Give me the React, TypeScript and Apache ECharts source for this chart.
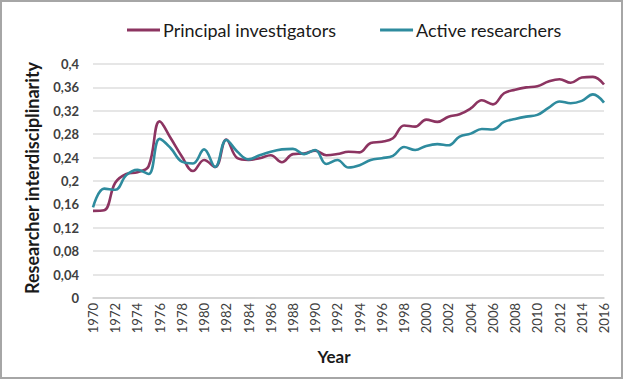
import React, { useEffect, useRef } from "react";
import * as echarts from "echarts";

const years: string[] = [];
for (let y = 1970; y <= 2016; y++) years.push(String(y));

const principalInvestigators = [
  0.149, 0.150, 0.197, 0.212, 0.215, 0.225, 0.302, 0.273, 0.242, 0.217,
  0.236, 0.224, 0.271, 0.239, 0.236, 0.239, 0.244, 0.232, 0.246, 0.247,
  0.252, 0.244, 0.246, 0.250, 0.249, 0.265, 0.267, 0.273, 0.295, 0.293,
  0.305, 0.301, 0.310, 0.314, 0.324, 0.338, 0.331, 0.350, 0.356, 0.360,
  0.362, 0.370, 0.374, 0.368, 0.377, 0.378, 0.365,
];

const activeResearchers = [
  0.155, 0.187, 0.185, 0.210, 0.219, 0.212, 0.272, 0.256, 0.233, 0.230,
  0.254, 0.224, 0.270, 0.250, 0.237, 0.244, 0.250, 0.254, 0.255, 0.246,
  0.253, 0.229, 0.236, 0.223, 0.227, 0.236, 0.239, 0.243, 0.258, 0.253,
  0.260, 0.263, 0.261, 0.276, 0.281, 0.289, 0.288, 0.301, 0.306, 0.310,
  0.313, 0.325, 0.336, 0.333, 0.337, 0.348, 0.334,
];

const FONT = "Lato, 'Open Sans', sans-serif";

export default function App() {
  const ref = useRef<HTMLDivElement>(null);
  useEffect(() => {
    document.body.style.margin = "0";
    const chart = echarts.init(ref.current!, undefined, { renderer: "svg" });
    chart.setOption({
      animation: false,
      backgroundColor: "#ffffff",
      textStyle: { fontFamily: FONT },
      graphic: [
        {
          type: "rect",
          shape: { x: 1, y: 1, width: 621, height: 377 },
          style: { fill: "none", stroke: "#a6a6a6", lineWidth: 2 },
          silent: true,
        },
      ],
      legend: {
        left: 122,
        top: 16,
        itemWidth: 33,
        itemHeight: 3,
        itemGap: 44,
        textStyle: { fontFamily: FONT, fontSize: 18, color: "#1a1a1a", padding: [0, 0, 0, -2] },
        data: [
          { name: "Principal investigators", icon: "rect" },
          { name: "Active researchers", icon: "rect" },
        ],
      },
      grid: { left: 93, right: 19, top: 64, bottom: 81 },
      xAxis: {
        type: "category",
        data: years,
        boundaryGap: false,
        axisLine: { lineStyle: { color: "#d0d0d0", width: 1.5 } },
        axisTick: { show: false },
        axisLabel: {
          rotate: 90,
          interval: 1,
          fontSize: 13,
          color: "#404040",
          fontFamily: FONT,
          margin: 5,
        },
        name: "Year",
        nameLocation: "middle",
        nameGap: 50,
        nameTextStyle: {
          fontSize: 17,
          fontWeight: "bold",
          color: "#1a1a1a",
          fontFamily: FONT,
          padding: [0, 29, 0, 0],
        },
      },
      yAxis: {
        type: "value",
        min: 0,
        max: 0.4,
        interval: 0.04,
        axisLine: { show: false },
        axisTick: { show: false },
        splitLine: { lineStyle: { color: "#dedede", width: 1.5 } },
        axisLabel: {
          fontSize: 13,
          fontWeight: "bold",
          color: "#404040",
          fontFamily: FONT,
          margin: 14,
          formatter: (v: number) => String(Number(v.toFixed(2))).replace(".", ","),
        },
        name: "Researcher interdisciplinarity",
        nameLocation: "middle",
        nameGap: 52,
        nameTextStyle: {
          fontSize: 18,
          fontWeight: "bold",
          color: "#1a1a1a",
          fontFamily: FONT,
          padding: [0, 0, 0, 6],
        },
      },
      series: [
        {
          name: "Principal investigators",
          type: "line",
          data: principalInvestigators,
          smooth: 0.4,
          symbol: "none",
          lineStyle: { color: "#8C3461", width: 2.6 },
          itemStyle: { color: "#8C3461" },
        },
        {
          name: "Active researchers",
          type: "line",
          data: activeResearchers,
          smooth: 0.4,
          symbol: "none",
          lineStyle: { color: "#2E8B9E", width: 2.6 },
          itemStyle: { color: "#2E8B9E" },
        },
      ],
    });
    return () => chart.dispose();
  }, []);
  return <div ref={ref} style={{ width: 623, height: 379 }} />;
}
